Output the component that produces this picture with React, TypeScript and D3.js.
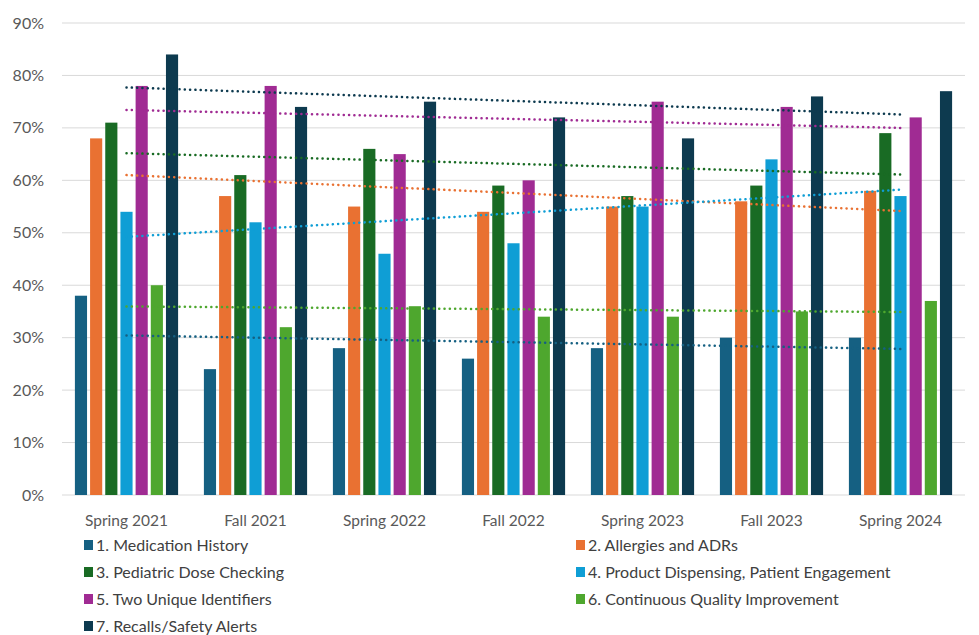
import React, { useEffect, useRef } from 'react';
import * as d3 from 'd3';

// 调查期次
const periods = ['Spring 2021', 'Fall 2021', 'Spring 2022', 'Fall 2022', 'Spring 2023', 'Fall 2023', 'Spring 2024'];

// 七个项目
const seriesNames = [
  '1. Medication History',
  '2. Allergies and ADRs',
  '3. Pediatric Dose Checking',
  '4. Product Dispensing, Patient Engagement',
  '5. Two Unique Identifiers',
  '6. Continuous Quality Improvement',
  '7. Recalls/Safety Alerts',
];

const medicationHistory = [38, 24, 28, 26, 28, 30, 30];
const allergiesADRs = [68, 57, 55, 54, 55, 56, 58];
const pediatricDose = [71, 61, 66, 59, 57, 59, 69];
const productDispensing = [54, 52, 46, 48, 55, 64, 57];
const twoIdentifiers = [78, 78, 65, 60, 75, 74, 72];
const qualityImprovement = [40, 32, 36, 34, 34, 35, 37];
const recallsAlerts = [84, 74, 75, 72, 68, 76, 77];

const seriesValues = [
  medicationHistory, allergiesADRs, pediatricDose, productDispensing,
  twoIdentifiers, qualityImprovement, recallsAlerts,
];

const colors = ['#156082', '#E97132', '#196B24', '#0F9ED5', '#A02B93', '#4EA72E', '#0D3A4F'];

const yTicks = [0, 10, 20, 30, 40, 50, 60, 70, 80, 90];

const W = 979, H = 635;
const margin = { left: 62, right: 14, top: 23, bottom: 140 };
const FONT = 'Lato, "Open Sans", sans-serif';

// 简单线性回归（Excel 的线性趋势线）
function linearFit(vals: number[]) {
  const n = vals.length;
  const xm = (n - 1) / 2;
  const ym = d3.mean(vals) as number;
  let sxy = 0, sxx = 0;
  vals.forEach((v, i) => { sxy += (i - xm) * (v - ym); sxx += (i - xm) * (i - xm); });
  const slope = sxy / sxx;
  return (i: number) => ym + slope * (i - xm);
}

const App: React.FC = () => {
  const svgRef = useRef<SVGSVGElement>(null);

  useEffect(() => {
    if (!svgRef.current) return;
    const svg = d3.select(svgRef.current);
    svg.selectAll('*').remove();

    const x0 = d3.scaleBand<string>().domain(periods)
      .range([margin.left, W - margin.right]).paddingInner(0.2).paddingOuter(0.1);
    const x1 = d3.scaleBand<number>().domain(d3.range(seriesNames.length))
      .range([0, x0.bandwidth()]).paddingInner(0.2);
    const y = d3.scaleLinear().domain([0, 90]).range([H - margin.bottom, margin.top]);

    // 网格线
    svg.append('g').selectAll('line').data(yTicks).enter().append('line')
      .attr('x1', margin.left).attr('x2', W - margin.right)
      .attr('y1', d => y(d)).attr('y2', d => y(d))
      .attr('stroke', '#d9d9d9').attr('stroke-width', 1);

    // y 轴标签
    svg.append('g').selectAll('text').data(yTicks).enter().append('text')
      .attr('x', 44).attr('y', d => y(d)).attr('dy', '0.35em')
      .attr('text-anchor', 'end')
      .style('font-family', FONT).style('font-size', '16px').attr('fill', '#595959')
      .text(d => `${d}%`);

    // 柱子
    const groups = svg.append('g').selectAll('g').data(periods).enter().append('g')
      .attr('transform', p => `translate(${x0(p)},0)`);
    groups.selectAll('rect')
      .data((p, gi) => seriesValues.map((vals, si) => ({ si, v: vals[gi] })))
      .enter().append('rect')
      .attr('x', d => x1(d.si) as number)
      .attr('width', x1.bandwidth())
      .attr('y', d => y(d.v))
      .attr('height', d => y(0) - y(d.v))
      .attr('fill', d => colors[d.si]);

    // 趋势线（点线）
    const cx = (i: number) => (x0(periods[i]) as number) + x0.bandwidth() / 2;
    seriesValues.forEach((vals, si) => {
      const f = linearFit(vals);
      const last = vals.length - 1;
      svg.append('line')
        .attr('x1', cx(0)).attr('x2', cx(last))
        .attr('y1', y(f(0))).attr('y2', y(f(last)))
        .attr('stroke', colors[si]).attr('stroke-width', 2.5)
        .attr('stroke-linecap', 'round').attr('stroke-dasharray', '0.1 5.2');
    });

    // x 轴标签
    svg.append('g').selectAll('text').data(periods).enter().append('text')
      .attr('x', p => (x0(p) as number) + x0.bandwidth() / 2).attr('y', 521)
      .attr('dy', '0.35em').attr('text-anchor', 'middle')
      .style('font-family', FONT).style('font-size', '15.5px').attr('fill', '#595959')
      .text(p => p);

    // 图例，两列
    const legend = svg.append('g').selectAll('g').data(seriesNames).enter().append('g')
      .attr('transform', (d, i) => `translate(${i % 2 === 0 ? 84 : 576},${545 + Math.floor(i / 2) * 27})`);
    legend.append('rect').attr('x', 0).attr('y', -5).attr('width', 9).attr('height', 10)
      .attr('fill', (d, i) => colors[i]);
    legend.append('text').attr('x', 12).attr('y', 0).attr('dy', '0.35em')
      .style('font-family', FONT).style('font-size', '16px').attr('fill', '#404040')
      .text(d => d);
  }, []);

  return (
    <div style={{ position: 'fixed', left: 0, top: 0, background: '#fff' }}>
      <svg ref={svgRef} width={W} height={H} style={{ display: 'block' }}></svg>
    </div>
  );
};

export default App;
